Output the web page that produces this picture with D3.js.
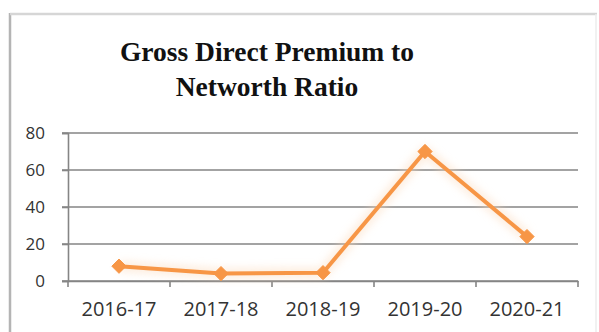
<!DOCTYPE html>
<html>
<head>
<meta charset="utf-8">
<script src="https://cdn.jsdelivr.net/npm/d3@7"></script>
<style>
  html, body { margin: 0; padding: 0; background: #fff; }
  svg { display: block; }
</style>
</head>
<body>
<svg id="chart" width="599" height="332"></svg>
<script>
// Gross direct premium to net worth ratio by financial year
const years = ["2016-17", "2017-18", "2018-19", "2019-20", "2020-21"];
const ratio = [8, 4, 4.5, 70, 24];
const yTicks = [0, 20, 40, 60, 80];
const titleLines = ["Gross Direct Premium to", "Networth Ratio"];

const svg = d3.select("#chart");
const W = 599, H = 332;
const plot = { left: 68, right: 578, top: 133, bottom: 281 };

// outer chart frame
svg.append("line").attr("x1", 10).attr("x2", 10).attr("y1", 13).attr("y2", H)
  .attr("stroke", "#b4b4b4").attr("stroke-width", 2.5);
svg.append("line").attr("x1", 10).attr("x2", 597).attr("y1", 14).attr("y2", 14)
  .attr("stroke", "#d6d6d6").attr("stroke-width", 2.5);
svg.append("line").attr("x1", 596).attr("x2", 596).attr("y1", 14).attr("y2", H)
  .attr("stroke", "#ececec").attr("stroke-width", 1.5);

// title
svg.append("g").selectAll("text").data(titleLines).join("text")
  .attr("x", 267).attr("y", (d, i) => 61 + i * 35)
  .attr("text-anchor", "middle")
  .attr("font-family", "'Liberation Serif', 'Times New Roman', serif")
  .attr("font-weight", "bold").attr("font-size", 27.5)
  .attr("fill", "#111")
  .text(d => d);

const x = d3.scaleBand().domain(years).range([plot.left, plot.right]);
const y = d3.scaleLinear().domain([0, 80]).range([plot.bottom, plot.top]);

// horizontal gridlines
svg.append("g").selectAll("line").data(yTicks).join("line")
  .attr("x1", plot.left - 6).attr("x2", plot.right)
  .attr("y1", d => y(d)).attr("y2", d => y(d))
  .attr("stroke", "#858585").attr("stroke-width", 1.6);

// y axis
const yAxis = svg.append("g").attr("transform", `translate(${plot.left},0)`)
  .call(d3.axisLeft(y).tickValues(yTicks).tickSize(6).tickPadding(17));
yAxis.select(".domain").attr("stroke", "#858585").attr("stroke-width", 1.6);
yAxis.selectAll(".tick line").attr("stroke", "#858585").attr("stroke-width", 1.6);
yAxis.selectAll("text").attr("font-family", "'Open Sans', sans-serif")
  .attr("font-size", 17).attr("fill", "#333");

// x axis: ticks at category boundaries
const xAxis = svg.append("g").attr("transform", `translate(0,${plot.bottom})`)
  .call(d3.axisBottom(x).tickSize(0).tickPadding(21));
xAxis.select(".domain").attr("stroke", "#858585").attr("stroke-width", 1.6);
xAxis.selectAll("text").attr("font-family", "'Open Sans', sans-serif")
  .attr("font-size", 20).attr("fill", "#333");
const bounds = years.map(d => x(d)).concat([x(years[years.length - 1]) + x.bandwidth()]);
xAxis.selectAll(".bound").data(bounds).join("line").attr("class", "bound")
  .attr("x1", d => d).attr("x2", d => d).attr("y1", 0).attr("y2", 6)
  .attr("stroke", "#858585").attr("stroke-width", 1.6);

// soft glow beneath the series
const defs = svg.append("defs");
defs.append("filter").attr("id", "glow").attr("x", "-20%").attr("y", "-20%")
  .attr("width", "140%").attr("height", "140%")
  .append("feGaussianBlur").attr("stdDeviation", 4);

const cx = d => x(d) + x.bandwidth() / 2;
const line = d3.line().x((d, i) => cx(years[i])).y(d => y(d));

svg.append("path").datum(ratio).attr("d", line)
  .attr("fill", "none").attr("stroke", "#fbd9ba").attr("stroke-width", 10)
  .attr("filter", "url(#glow)").attr("opacity", 0.5);

svg.append("path").datum(ratio).attr("d", line)
  .attr("fill", "none").attr("stroke", "#f79646").attr("stroke-width", 4)
  .attr("stroke-linejoin", "round");

// diamond markers
svg.append("g").selectAll("path").data(ratio).join("path")
  .attr("transform", (d, i) => `translate(${cx(years[i])},${y(d)})`)
  .attr("d", d3.symbol(d3.symbolDiamond2, 130)())
  .attr("fill", "#f79646").attr("stroke", "#f79646").attr("stroke-width", 1);
</script>
</body>
</html>
